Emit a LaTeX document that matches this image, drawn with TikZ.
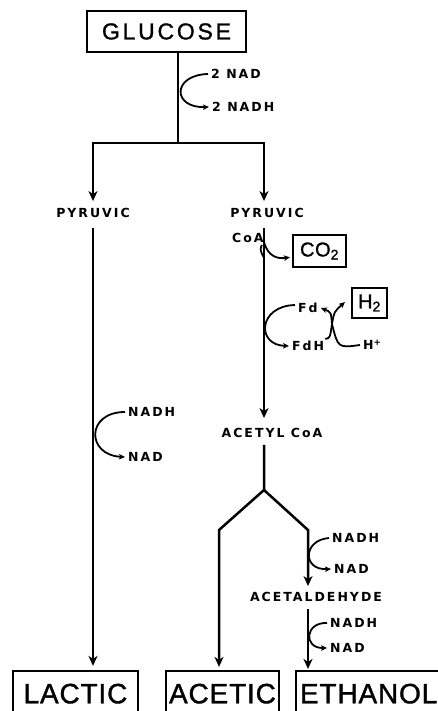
\documentclass[tikz,border=0pt]{standalone}
\usepackage{fontspec}
\setmainfont{Liberation Sans}
\newfontfamily\lblfont[LetterSpace=16]{DejaVu Sans}
\newfontfamily\glufont[LetterSpace=12,FakeBold=1.2]{Liberation Sans}
\newfontfamily\endfont[LetterSpace=3,FakeBold=1.2]{Liberation Sans}
\usetikzlibrary{arrows.meta}
\begin{document}
\begin{tikzpicture}[x=1pt,y=-1pt,
  lbl/.style={font=\lblfont\bfseries\fontsize{12.5}{14}\selectfont, inner xsep=3pt, inner ysep=2pt},
  bigbox/.style={draw, line width=2.2pt, inner sep=0pt},
  endbox/.style={bigbox, minimum height=54pt, text depth=9pt, font=\endfont\fontsize{28}{30}\selectfont},
  main/.style={line width=2.5pt, miter limit=10},
  mainarrow/.style={main, -{Stealth[length=10pt,width=9pt,inset=3pt]}},
  curv/.style={line width=1.8pt},
  curvarrow/.style={curv, -{Stealth[length=6pt,width=5.5pt,inset=1.5pt]}}
]
\useasboundingbox (0,0) rectangle (437,711);
\fill[white] (0,0) rectangle (437,711);

% boxes
\node[bigbox, minimum width=159pt, minimum height=41pt, font=\glufont\fontsize{23}{25}\selectfont] (glucose) at (166.5,31.5) {GLUCOSE};
\node[endbox, minimum width=125pt] (lactic) at (75.5,698) {LACTIC};
\node[endbox, minimum width=113pt] (acetic) at (222.5,698) {ACETIC};
\node[endbox, minimum width=148pt, text width=140pt, align=left] (ethanol) at (370,698) {ETHANOL};
\node[bigbox, minimum width=53pt, minimum height=32pt, font=\endfont\fontsize{20}{22}\selectfont] (co2) at (319.5,251) {CO\textsubscript{2}};
\node[bigbox, minimum width=35pt, minimum height=30pt, font=\endfont\fontsize{20}{22}\selectfont] (h2) at (369.5,303) {H\textsubscript{2}};

% labels
\node[lbl, anchor=west] (nad1) at (208,74) {2 NAD};
\node[lbl, anchor=west] (nadh1) at (209,107) {2 NADH};
\node[lbl] (pyr1) at (93,213) {PYRUVIC};
\node[lbl] (pyr2) at (267,213) {PYRUVIC};
\node[lbl, anchor=west] (coa) at (229,238) {CoA};
\node[lbl, anchor=west] (fd) at (295,308) {Fd};
\node[lbl, anchor=west] (fdh) at (289,346) {FdH};
\node[lbl, anchor=west] (hplus) at (360,345) {H\textsuperscript{+}};
\node[lbl, anchor=west] (nadh2) at (125,412) {NADH};
\node[lbl, anchor=west] (nad2) at (125,457) {NAD};
\node[lbl] (acetyl) at (272,433) {ACETYL CoA};
\node[lbl, anchor=west] (nadh3) at (329,538) {NADH};
\node[lbl, anchor=west] (nad3) at (331,569) {NAD};
\node[lbl] (acetald) at (316,597) {ACETALDEHYDE};
\node[lbl, anchor=west] (nadh4) at (327,623) {NADH};
\node[lbl, anchor=west] (nad4) at (327,648) {NAD};

% junctions
\coordinate (split) at (178,143);
\coordinate (cl) at (93,143);
\coordinate (cr) at (264,143);
\coordinate (fork) at (264,490);
\coordinate (fl) at (219,530);
\coordinate (fr) at (308,530);
\coordinate (coain) at (264,258);
\coordinate (co2out) at (264,242);
\coordinate (xj) at (332,324);

% main pathway
\draw[main] (glucose.south -| split) -- (split);
\draw[mainarrow, shorten >=5pt] (split) -- (cl) -- (cl |- pyr1.north);
\draw[mainarrow, shorten >=5pt] (split) -- (cr) -- (cr |- pyr2.north);
\draw[mainarrow, shorten <=8pt, shorten >=4pt] (cl |- pyr1.south) -- (cl |- lactic.north);
\draw[mainarrow, shorten <=8pt, shorten >=8pt] (cr |- pyr2.south) -- (cr |- acetyl.north);
\draw[mainarrow, shorten <=5pt, shorten >=3pt] (fork |- acetyl.south) -- (fork) -- (fl) -- (fl |- acetic.north);
\draw[mainarrow, shorten >=4pt] (fork) -- (fr) -- (fr |- acetald.north);
\draw[mainarrow, shorten <=5pt, shorten >=1pt] (fr |- acetald.south) -- (fr |- ethanol.north);

% side reactions
\draw[curvarrow] (nad1.west) .. controls (172,75) and (172,108) .. (nadh1.west);
\draw[curvarrow] (nadh2.west) .. controls (86,412) and (86,455) .. (nad2.west);
\draw[curv] ([xshift=-5pt]coa.south east) .. controls (260,250) .. (coain);
\draw[curvarrow, shorten >=2pt] (co2out) .. controls (268,257) and (278,259) .. ([yshift=-6pt]co2.west);
\draw[curvarrow] ([yshift=3pt]fd.west) .. controls (258,306) and (256,345) .. (fdh.west);
\draw[curv] ([xshift=-2pt]fdh.north east) .. controls (330,338) .. (xj);
\draw[curv] (hplus.west) .. controls (338,348) .. (xj);
\draw[curvarrow] (xj) .. controls (331,312) .. (fd.east);
\draw[curvarrow] (xj) .. controls (334,312) .. ([xshift=-6pt,yshift=1pt]h2.west);
\draw[curvarrow] (nadh3.west) .. controls (303,540) and (302,570) .. (nad3.west);
\draw[curvarrow] (nadh4.west) .. controls (305,622) and (303,648) .. (nad4.west);
\end{tikzpicture}
\end{document}
